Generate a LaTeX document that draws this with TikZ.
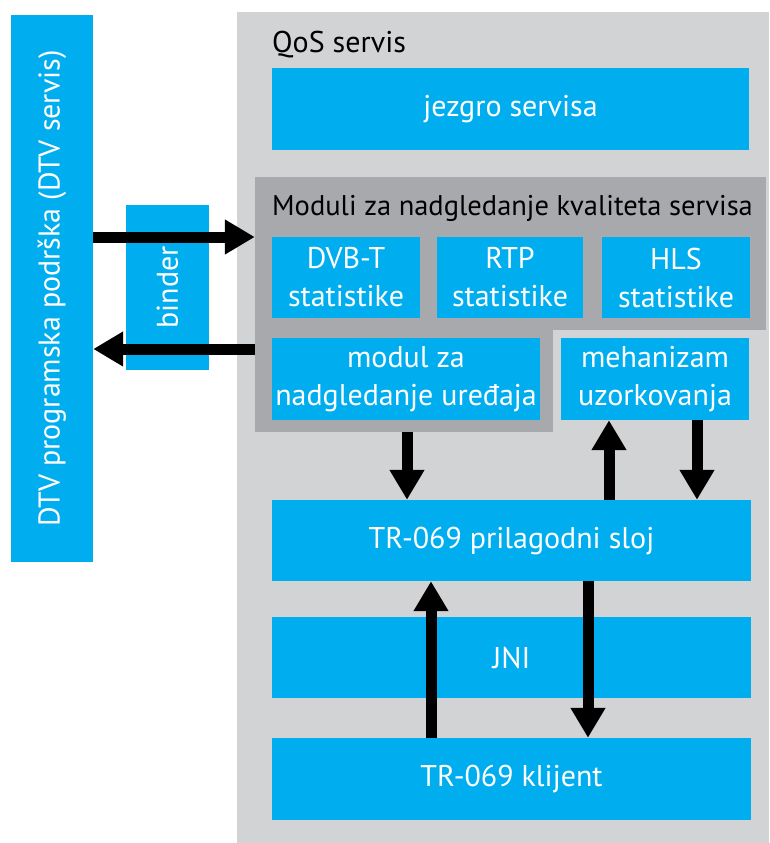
\documentclass[tikz,border=0pt]{standalone}
\usepackage{fontspec}
\setmainfont{PT Sans}
\usetikzlibrary{arrows.meta}
\definecolor{cblue}{HTML}{00AEEF}
\definecolor{lgray}{HTML}{D1D3D4}
\definecolor{dgray}{HTML}{A7A9AC}
\begin{document}
\begin{tikzpicture}[x=1pt,y=-1pt,
  txt/.style={font=\fontsize{30}{38}\selectfont},
  box/.style={fill=cblue, text=white, inner sep=0pt, align=center, txt},
  arr/.style={line width=11pt, -{Triangle[width=33pt,length=30pt]}}]
\useasboundingbox (0,0) rectangle (769,843);
\fill[white] (0,0) rectangle (769,843);
% left service bar
\node[box, minimum width=82pt, minimum height=547pt] (dtv) at (52,288.5) {};
\node[rotate=90, text=white, txt] at (dtv.center) {DTV programska podrška (DTV servis)};
% binder
\node[box, minimum width=83pt, minimum height=165pt] (binder) at (167.5,287.5) {};
\node[rotate=90, text=white, txt] at (binder.center) {binder};
% QoS service panel
\node[fill=lgray, inner sep=0pt, minimum width=532pt, minimum height=831pt] (qos) at (503,427.5) {};
\node[anchor=west, txt, inner sep=0pt] (qoslbl) at (272,45) {QoS servis};
\node[box, minimum width=477pt, minimum height=82pt] (jezgro) at (510.5,109) {jezgro servisa};
% modules panel (L shape)
\node[fill=dgray, inner sep=0pt, minimum width=511pt, minimum height=153pt] (modA) at (510.5,253.5) {};
\node[fill=dgray, inner sep=0pt, minimum width=298pt, minimum height=103pt] (modB) at (404,380.5) {};
\node[anchor=west, font=\fontsize{28.5}{34}\selectfont, inner sep=0pt] (modlbl) at (272,208) {Moduli za nadgledanje kvaliteta servisa};
\node[box, minimum width=148pt, minimum height=81pt] (dvbt) at (346,277.5) {DVB-T\\statistike};
\node[box, minimum width=146pt, minimum height=81pt] (rtp) at (510,277.5) {RTP\\statistike};
\node[box, minimum width=148pt, minimum height=81pt] (hls) at (676,277.5) {HLS\\statistike};
\node[box, minimum width=268pt, minimum height=82pt] (modul) at (406,379) {modul za\\nadgledanje uređaja};
\node[box, minimum width=188pt, minimum height=82pt] (meh) at (655,379) {mehanizam\\uzorkovanja};
% lower stack
\node[box, minimum width=479pt, minimum height=81pt] (tr) at (511.5,540.5) {TR-069 prilagodni sloj};
\node[box, minimum width=479pt, minimum height=81pt] (jni) at (511.5,657.5) {JNI};
\node[box, minimum width=479pt, minimum height=82pt] (kl) at (511.5,779) {TR-069 klijent};
% helper coordinates
\coordinate (yin) at (0,237);
\coordinate (yout) at (0,349);
\coordinate (xa) at (407,0);
\coordinate (xb) at (609,0);
\coordinate (xc) at (697,0);
\coordinate (xd) at (431,0);
\coordinate (xe) at (588,0);
% arrows
\draw[arr] (dtv.east |- yin) -- (modA.west |- yin);
\draw[arr] (modB.west |- yout) -- (dtv.east |- yout);
\draw[arr] (modB.south -| xa) -- (tr.north -| xa);
\draw[arr] (tr.north -| xb) -- (meh.south -| xb);
\draw[arr] (meh.south -| xc) -- (tr.north -| xc);
\draw[arr] (kl.north -| xd) -- (tr.south -| xd);
\draw[arr] (tr.south -| xe) -- (kl.north -| xe);
\end{tikzpicture}
\end{document}
